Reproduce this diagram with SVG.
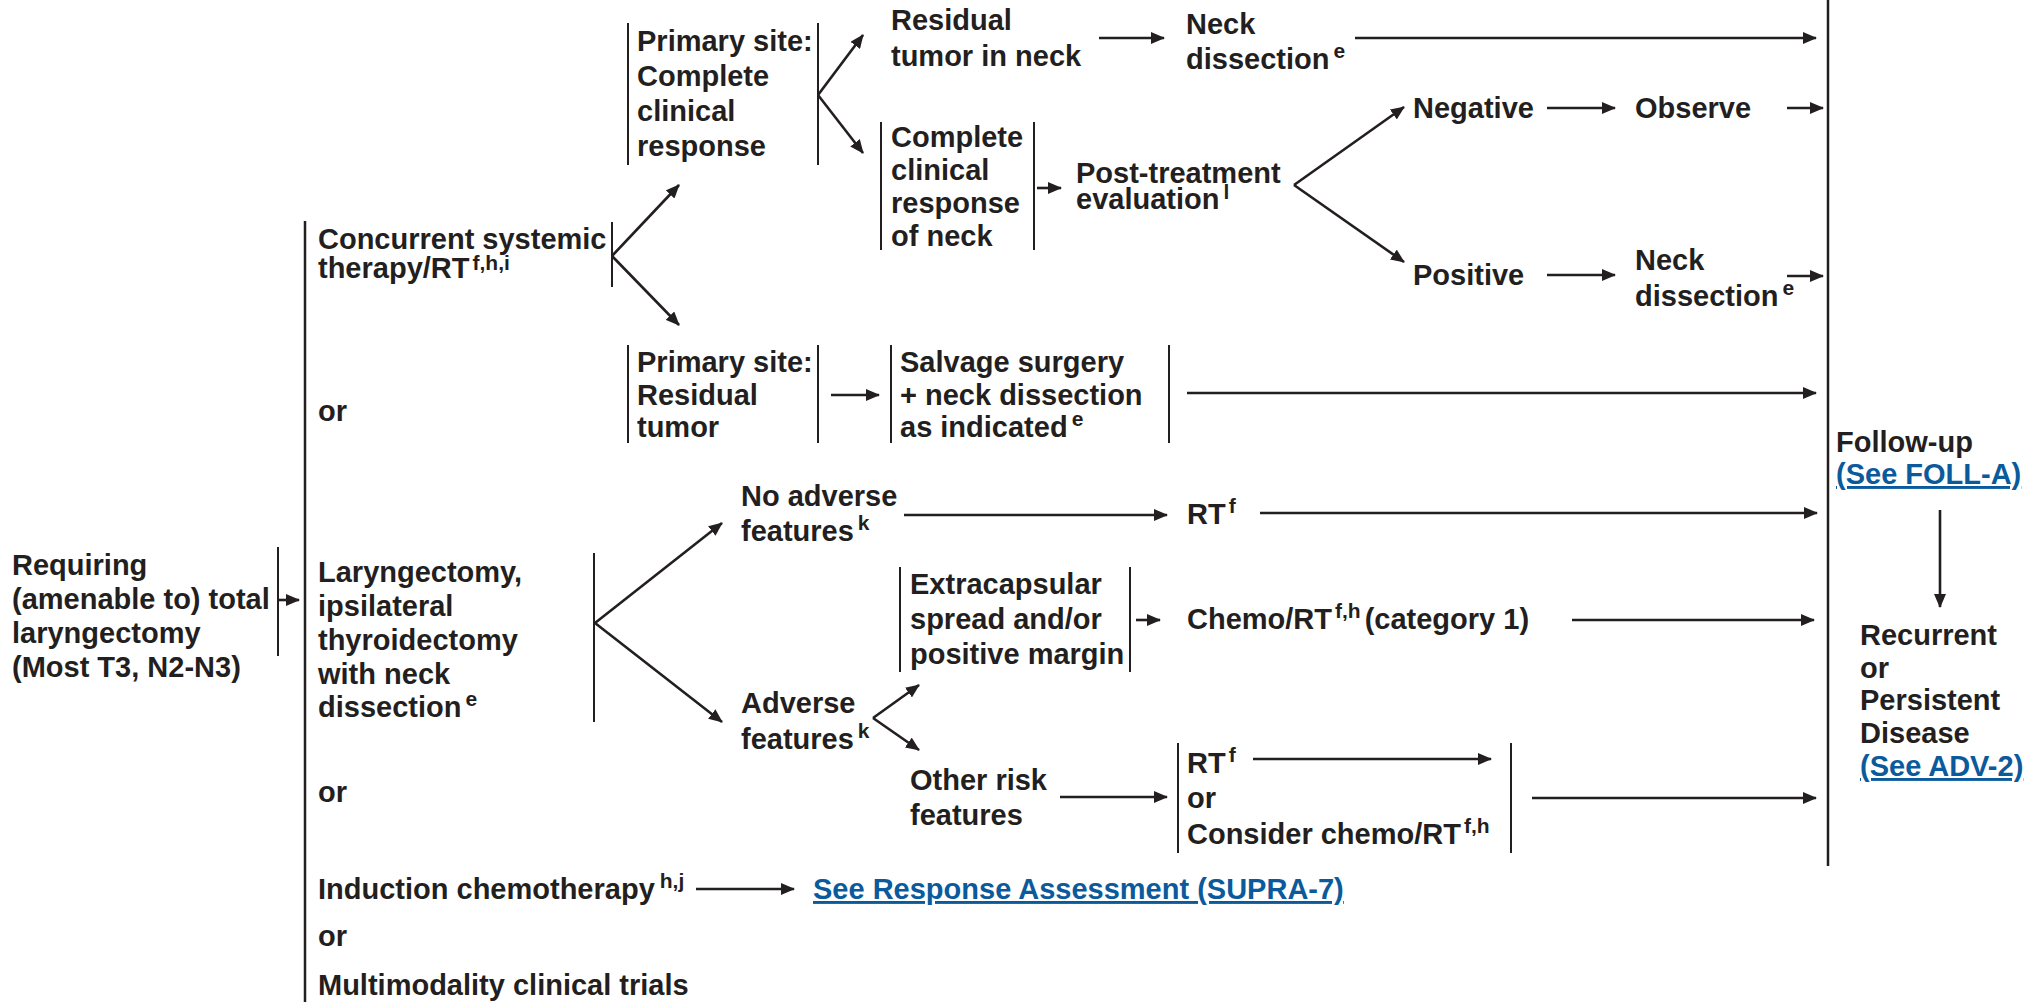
<svg xmlns="http://www.w3.org/2000/svg" width="2026" height="1002" viewBox="0 0 2026 1002">
  <defs>
    <marker id="arrow" markerUnits="userSpaceOnUse" markerWidth="14" markerHeight="12" refX="13" refY="6" orient="auto">
      <path d="M0,0 L14,6 L0,12 z" fill="#231f20"/>
    </marker>
    <style>
      text { font-family: "Liberation Sans", Arial, Helvetica, sans-serif; font-weight: bold; font-size: 29px; fill: #231f20; }
      .sup { font-size: 21px; }
      .link { fill: #0b5a9c; text-decoration: underline; }
      .bar { stroke: #231f20; stroke-width: 2.5; fill: none; }
      .brk { stroke: #231f20; stroke-width: 2; fill: none; }
      .arr { stroke: #231f20; stroke-width: 2.6; fill: none; marker-end: url(#arrow); }
    </style>
  </defs>
  <rect width="2026" height="1002" fill="#ffffff"/>

  <!-- entry: requiring total laryngectomy -->
  <g id="n-requiring">
    <text x="12" y="575">Requiring</text>
    <text x="12" y="609">(amenable to) total</text>
    <text x="12" y="643">laryngectomy</text>
    <text x="12" y="677">(Most T3, N2-N3)</text>
    <line class="brk" x1="278" y1="547" x2="278" y2="656"/>
  </g>

  <!-- treatment options column -->
  <g id="n-options">
    <line class="bar" x1="305" y1="221" x2="305" y2="1002"/>
  </g>
  <g id="n-concurrent">
    <text x="318" y="249">Concurrent systemic</text>
    <text x="318" y="278">therapy/RT<tspan class="sup" dx="3" dy="-8" font-size="20">f,h,i</tspan></text>
    <line class="brk" x1="612" y1="222" x2="612" y2="287"/>
  </g>
  <g id="n-or1"><text x="318" y="421">or</text></g>
  <g id="n-laryngectomy">
    <text x="318" y="582">Laryngectomy,</text>
    <text x="318" y="616">ipsilateral</text>
    <text x="318" y="650">thyroidectomy</text>
    <text x="318" y="684">with neck</text>
    <text x="318" y="717">dissection<tspan class="sup" dx="4" dy="-11">e</tspan></text>
    <line class="brk" x1="594" y1="553" x2="594" y2="722"/>
  </g>
  <g id="n-or2"><text x="318" y="802">or</text></g>
  <g id="n-induction">
    <text x="318" y="899">Induction chemotherapy<tspan class="sup" dx="5" dy="-11">h,j</tspan></text>
  </g>
  <g id="n-supra7">
    <text class="link" x="813" y="899">See Response Assessment (SUPRA-7)</text>
  </g>
  <g id="n-or3"><text x="318" y="946">or</text></g>
  <g id="n-trials"><text x="318" y="995">Multimodality clinical trials</text></g>

  <!-- after concurrent systemic therapy/RT -->
  <g id="n-primary-cr">
    <line class="brk" x1="628" y1="23" x2="628" y2="165"/>
    <text x="637" y="51">Primary site:</text>
    <text x="637" y="86">Complete</text>
    <text x="637" y="121">clinical</text>
    <text x="637" y="156">response</text>
    <line class="brk" x1="818" y1="23" x2="818" y2="165"/>
  </g>
  <g id="n-residual-neck">
    <text x="891" y="30">Residual</text>
    <text x="891" y="66">tumor in neck</text>
  </g>
  <g id="n-neck-dissection-1">
    <text x="1186" y="34">Neck</text>
    <text x="1186" y="69">dissection<tspan class="sup" dx="4" dy="-11">e</tspan></text>
  </g>
  <g id="n-cr-neck">
    <line class="brk" x1="881" y1="122" x2="881" y2="250"/>
    <text x="891" y="147">Complete</text>
    <text x="891" y="180">clinical</text>
    <text x="891" y="213">response</text>
    <text x="891" y="246">of neck</text>
    <line class="brk" x1="1034" y1="122" x2="1034" y2="250"/>
  </g>
  <g id="n-post-treatment">
    <text x="1076" y="183">Post-treatment</text>
    <text x="1076" y="209">evaluation<tspan class="sup" dx="4" dy="-10">l</tspan></text>
  </g>
  <g id="n-negative"><text x="1413" y="118">Negative</text></g>
  <g id="n-observe"><text x="1635" y="118">Observe</text></g>
  <g id="n-positive"><text x="1413" y="285">Positive</text></g>
  <g id="n-neck-dissection-2">
    <text x="1635" y="270">Neck</text>
    <text x="1635" y="306">dissection<tspan class="sup" dx="4" dy="-11">e</tspan></text>
  </g>
  <g id="n-primary-residual">
    <line class="brk" x1="628" y1="345" x2="628" y2="443"/>
    <text x="637" y="372">Primary site:</text>
    <text x="637" y="405">Residual</text>
    <text x="637" y="437">tumor</text>
    <line class="brk" x1="818" y1="345" x2="818" y2="443"/>
  </g>
  <g id="n-salvage">
    <line class="brk" x1="891" y1="345" x2="891" y2="443"/>
    <text x="900" y="372">Salvage surgery</text>
    <text x="900" y="405">+ neck dissection</text>
    <text x="900" y="437">as indicated<tspan class="sup" dx="4" dy="-11">e</tspan></text>
    <line class="brk" x1="1169" y1="345" x2="1169" y2="443"/>
  </g>

  <!-- after laryngectomy -->
  <g id="n-no-adverse">
    <text x="741" y="506">No adverse</text>
    <text x="741" y="541">features<tspan class="sup" dx="4" dy="-11">k</tspan></text>
  </g>
  <g id="n-rt-1">
    <text x="1187" y="524">RT<tspan class="sup" dx="3" dy="-11">f</tspan></text>
  </g>
  <g id="n-extracapsular">
    <line class="brk" x1="900" y1="567" x2="900" y2="672"/>
    <text x="910" y="594">Extracapsular</text>
    <text x="910" y="629">spread and/or</text>
    <text x="910" y="664">positive margin</text>
    <line class="brk" x1="1130" y1="567" x2="1130" y2="672"/>
  </g>
  <g id="n-chemo-rt">
    <text x="1187" y="629">Chemo/RT<tspan class="sup" dx="3" dy="-11">f,h</tspan><tspan dx="4" dy="11">(category 1)</tspan></text>
  </g>
  <g id="n-adverse">
    <text x="741" y="713">Adverse</text>
    <text x="741" y="749">features<tspan class="sup" dx="4" dy="-11">k</tspan></text>
  </g>
  <g id="n-other-risk">
    <text x="910" y="790">Other risk</text>
    <text x="910" y="825">features</text>
  </g>
  <g id="n-rt-or-chemo">
    <line class="brk" x1="1178" y1="743" x2="1178" y2="853"/>
    <text x="1187" y="773">RT<tspan class="sup" dx="3" dy="-11">f</tspan></text>
    <text x="1187" y="808">or</text>
    <text x="1187" y="844">Consider chemo/RT<tspan class="sup" dx="3" dy="-11">f,h</tspan></text>
    <line class="brk" x1="1511" y1="743" x2="1511" y2="853"/>
  </g>

  <!-- follow-up column -->
  <g id="n-follow-up">
    <line class="bar" x1="1828" y1="0" x2="1828" y2="866"/>
    <text x="1836" y="452">Follow-up</text>
    <text class="link" x="1836" y="484">(See FOLL-A)</text>
  </g>
  <g id="n-recurrent">
    <text x="1860" y="645">Recurrent</text>
    <text x="1860" y="678">or</text>
    <text x="1860" y="710">Persistent</text>
    <text x="1860" y="743">Disease</text>
    <text class="link" x="1860" y="776">(See ADV-2)</text>
  </g>

  <g id="connectors">
    <!-- entry to options -->
    <line class="arr" x1="278" y1="600" x2="299" y2="600"/>
    <!-- concurrent fork -->
    <line class="arr" x1="612" y1="256" x2="679" y2="185"/>
    <line class="arr" x1="612" y1="256" x2="679" y2="325"/>
    <!-- primary site complete response fork -->
    <line class="arr" x1="818" y1="95" x2="863" y2="35"/>
    <line class="arr" x1="818" y1="95" x2="863" y2="153"/>
    <line class="arr" x1="1099" y1="38" x2="1164" y2="38"/>
    <line class="arr" x1="1355" y1="38" x2="1816" y2="38"/>
    <line class="arr" x1="1037" y1="188" x2="1061" y2="188"/>
    <!-- post-treatment evaluation fork -->
    <line class="arr" x1="1294" y1="185" x2="1404" y2="107"/>
    <line class="arr" x1="1294" y1="185" x2="1404" y2="262"/>
    <line class="arr" x1="1547" y1="108" x2="1615" y2="108"/>
    <line class="arr" x1="1787" y1="108" x2="1823" y2="108"/>
    <line class="arr" x1="1547" y1="275" x2="1615" y2="275"/>
    <line class="arr" x1="1787" y1="276" x2="1823" y2="276"/>
    <!-- residual primary -->
    <line class="arr" x1="831" y1="395" x2="879" y2="395"/>
    <line class="arr" x1="1187" y1="393" x2="1816" y2="393"/>
    <!-- laryngectomy fork -->
    <line class="arr" x1="595" y1="623" x2="722" y2="523"/>
    <line class="arr" x1="595" y1="623" x2="722" y2="722"/>
    <line class="arr" x1="904" y1="515" x2="1167" y2="515"/>
    <line class="arr" x1="1260" y1="513" x2="1817" y2="513"/>
    <line class="arr" x1="1136" y1="620" x2="1160" y2="620"/>
    <line class="arr" x1="1572" y1="620" x2="1814" y2="620"/>
    <!-- adverse features fork -->
    <line class="arr" x1="873" y1="718" x2="919" y2="685"/>
    <line class="arr" x1="873" y1="718" x2="919" y2="750"/>
    <line class="arr" x1="1060" y1="797" x2="1167" y2="797"/>
    <line class="arr" x1="1253" y1="759" x2="1491" y2="759"/>
    <line class="arr" x1="1532" y1="798" x2="1816" y2="798"/>
    <!-- induction -->
    <line class="arr" x1="696" y1="889" x2="794" y2="889"/>
    <!-- follow-up to recurrence -->
    <line class="arr" x1="1940" y1="510" x2="1940" y2="607"/>
  </g>
</svg>
